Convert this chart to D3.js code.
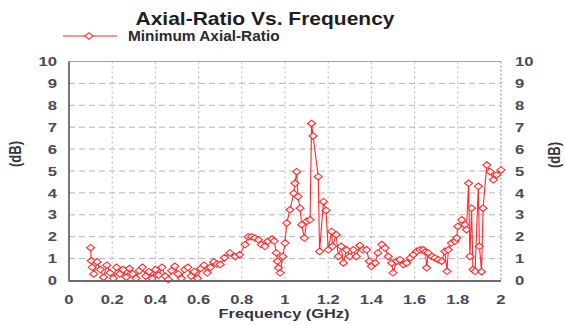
<!DOCTYPE html>
<html>
<head>
<meta charset="utf-8">
<script src="https://cdn.jsdelivr.net/npm/d3@7"></script>
<style>
  html, body { margin: 0; padding: 0; background: #fff; }
  svg { display: block; }
  text { font-family: "Liberation Sans", Arial, sans-serif; font-weight: bold; }
</style>
</head>
<body>
<svg id="chart" width="565" height="325"></svg>
<script>
// Swept frequency points (GHz)
const freqGHz = [
  0.100, 0.103, 0.107, 0.115, 0.130, 0.145, 0.160, 0.175, 0.190, 0.205,
  0.220, 0.235, 0.250, 0.265, 0.280, 0.295, 0.310, 0.325, 0.340, 0.355,
  0.370, 0.385, 0.400, 0.415, 0.430, 0.445, 0.460, 0.475, 0.490, 0.505,
  0.520, 0.535, 0.550, 0.565, 0.580, 0.595, 0.610, 0.625, 0.640, 0.655,
  0.670, 0.685, 0.700, 0.720, 0.745, 0.770, 0.790, 0.815, 0.830, 0.845,
  0.860, 0.877, 0.890, 0.907, 0.920, 0.940, 0.950, 0.960, 0.965, 0.970,
  0.977, 0.990, 1.000, 1.008, 1.023, 1.040, 1.046, 1.054, 1.060, 1.070,
  1.077, 1.090, 1.100, 1.116, 1.123, 1.130, 1.154, 1.160, 1.178, 1.190,
  1.200, 1.216, 1.220, 1.237, 1.247, 1.260, 1.270, 1.285, 1.300, 1.316,
  1.330, 1.347, 1.360, 1.378, 1.390, 1.400, 1.417, 1.430, 1.448, 1.463,
  1.478, 1.494, 1.500, 1.517, 1.532, 1.548, 1.563, 1.580, 1.594, 1.610,
  1.625, 1.640, 1.650, 1.656, 1.663, 1.680, 1.694, 1.710, 1.725, 1.740,
  1.750, 1.756, 1.770, 1.787, 1.795, 1.800, 1.818, 1.833, 1.840, 1.850,
  1.856, 1.864, 1.870, 1.880, 1.895, 1.900, 1.910, 1.917, 1.934, 1.950,
  1.965, 1.980, 2.000
];

// Minimum axial ratio at each frequency (dB)
const axialRatioDb = [
  1.50, 0.90, 0.60, 0.30, 0.85, 0.50, 0.15, 0.70, 0.35, 0.10,
  0.60, 0.30, 0.50, 0.15, 0.55, 0.30, 0.10, 0.45, 0.60, 0.20,
  0.40, 0.10, 0.50, 0.25, 0.60, 0.20, 0.05, 0.45, 0.65, 0.30,
  0.10, 0.50, 0.60, 0.20, 0.40, 0.10, 0.55, 0.70, 0.35, 0.60,
  0.85, 0.75, 0.73, 1.04, 1.26, 1.10, 1.18, 1.64, 2.00, 2.00,
  1.94, 1.86, 1.64, 1.56, 1.79, 1.89, 1.80, 1.26, 0.88, 0.58,
  0.35, 1.10, 1.71, 2.62, 3.23, 3.98, 4.44, 4.97, 3.83, 3.30,
  2.55, 1.94, 2.70, 2.77, 7.17, 6.60, 4.74, 1.33, 3.60, 3.20,
  1.40, 2.24, 1.56, 2.09, 1.10, 1.56, 0.80, 1.40, 1.10, 1.40,
  1.10, 1.60, 1.40, 1.40, 0.88, 0.65, 0.80, 1.26, 1.64, 1.48,
  1.10, 0.80, 0.35, 0.88, 0.95, 0.73, 0.80, 1.03, 1.18, 1.33,
  1.40, 1.40, 1.30, 0.58, 1.26, 1.10, 1.03, 0.95, 0.88, 1.33,
  0.42, 1.40, 1.71, 1.79, 1.94, 2.47, 2.77, 2.55, 2.32, 4.44,
  1.10, 3.30, 0.50, 0.42, 4.30, 1.56, 0.40, 3.30, 5.27, 4.97,
  4.60, 4.82, 5.05
];

// Axis ticks
const xTicks = [0, 0.2, 0.4, 0.6, 0.8, 1, 1.2, 1.4, 1.6, 1.8, 2];
const yTicks = [0, 1, 2, 3, 4, 5, 6, 7, 8, 9, 10];

const chartTitle = "Axial-Ratio Vs. Frequency";
const seriesName = "Minimum Axial-Ratio";
const xTitle = "Frequency (GHz)";
const yTitle = "(dB)";

const svg = d3.select("#chart");
const plot = { left: 69, right: 501, top: 61.5, bottom: 280.5 };
const red = "#ff2a2a";
const tickColor = "#4a4a58";
const stretch = 1.28;   // wide lettering of the labels

const x = d3.scaleLinear().domain([0, 2]).range([plot.left, plot.right]);
const y = d3.scaleLinear().domain([0, 10]).range([plot.bottom, plot.top]);

// Gridlines
const grid = svg.append("g");
grid.selectAll("line.h").data(yTicks.slice(1, -1)).join("line")
  .attr("x1", plot.left).attr("x2", plot.right)
  .attr("y1", d => y(d)).attr("y2", d => y(d))
  .attr("stroke", "#b4b4b4").attr("stroke-width", 1)
  .attr("stroke-dasharray", "6,4");
grid.selectAll("line.v").data(xTicks.slice(1, -1)).join("line")
  .attr("x1", d => x(d)).attr("x2", d => x(d))
  .attr("y1", plot.top).attr("y2", plot.bottom)
  .attr("stroke", "#b4b4b4").attr("stroke-width", 1)
  .attr("stroke-dasharray", "2,3");

// Frame: top and right light, left and bottom solid
svg.append("line").attr("x1", plot.left).attr("x2", plot.right)
  .attr("y1", plot.top).attr("y2", plot.top)
  .attr("stroke", "#a0a0a0").attr("stroke-width", 1);
svg.append("line").attr("x1", plot.right).attr("x2", plot.right)
  .attr("y1", plot.top).attr("y2", plot.bottom)
  .attr("stroke", "#9a9a9a").attr("stroke-width", 1.2)
  .attr("stroke-dasharray", "2,2");

// Series line
const line = d3.line().x((d, i) => x(freqGHz[i])).y(d => y(d));
svg.append("path").datum(axialRatioDb)
  .attr("d", line)
  .attr("fill", "none").attr("stroke", red)
  .attr("stroke-width", 1.1).attr("stroke-linejoin", "round");

// Diamond markers
const diamond = (cx, cy) => `M${cx - 4},${cy} L${cx},${cy - 3.3} L${cx + 4},${cy} L${cx},${cy + 3.3} Z`;
svg.append("g").selectAll("path").data(axialRatioDb).join("path")
  .attr("d", (d, i) => diamond(x(freqGHz[i]), y(d)))
  .attr("fill", "#fff").attr("fill-opacity", 0.85)
  .attr("stroke", red).attr("stroke-width", 1.1);

// Left and bottom axis lines on top of the data
svg.append("line").attr("x1", plot.left).attr("x2", plot.left)
  .attr("y1", plot.top).attr("y2", plot.bottom + 1)
  .attr("stroke", "#555").attr("stroke-width", 1.6);
svg.append("line").attr("x1", plot.left).attr("x2", plot.right)
  .attr("y1", plot.bottom + 0.5).attr("y2", plot.bottom + 0.5)
  .attr("stroke", "#6a6a6a").attr("stroke-width", 2.2);

// Helper for horizontally widened text
function wideText(g, px, py, str, size, anchor, sx, color) {
  return g.append("g").attr("transform", `translate(${px},${py}) scale(${sx},1)`)
    .append("text")
    .attr("text-anchor", anchor)
    .attr("font-size", size)
    .attr("fill", color)
    .text(str);
}

// Axis tick labels
const labels = svg.append("g");
const fmtX = d => (d === 0 || d === 1 || d === 2) ? String(d) : d.toFixed(1);
xTicks.forEach(t => wideText(labels, x(t), 304, fmtX(t), 13, "middle", stretch, tickColor));
yTicks.forEach(t => {
  wideText(labels, 57, y(t) + 4.6, String(t), 13, "end", stretch, tickColor);
  wideText(labels, 515, y(t) + 4.6, String(t), 13, "start", stretch, tickColor);
});

// Axis titles
wideText(svg, 284, 318, xTitle, 12.8, "middle", stretch, "#33343e");
svg.append("text").attr("transform", "translate(21,154) rotate(-90) scale(1,1.25)")
  .attr("text-anchor", "middle").attr("font-size", 13).attr("fill", "#33343e").text(yTitle);
svg.append("text").attr("transform", "translate(560,155) rotate(-90) scale(1,1.25)")
  .attr("text-anchor", "middle").attr("font-size", 13).attr("fill", "#33343e").text(yTitle);

// Title
wideText(svg, 265, 25, chartTitle, 18.6, "middle", 1.13, "#1e1e22");

// Legend
svg.append("line").attr("x1", 63).attr("x2", 117).attr("y1", 36).attr("y2", 36)
  .attr("stroke", red).attr("stroke-width", 1.2);
svg.append("path").attr("d", diamond(89, 36))
  .attr("fill", "#fff").attr("stroke", red).attr("stroke-width", 1.1);
wideText(svg, 128, 41, seriesName, 14, "start", 1.1, "#2a2a30");
</script>
</body>
</html>
